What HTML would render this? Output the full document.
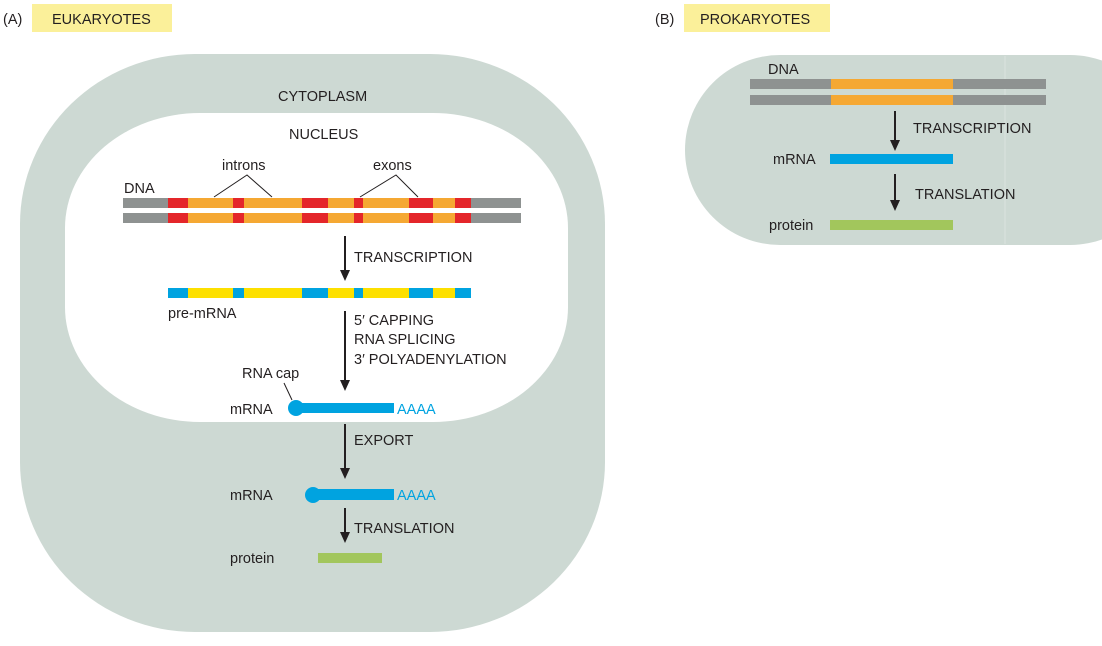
<!DOCTYPE html>
<html><head><meta charset="utf-8"><style>
html,body{margin:0;padding:0;background:#fff;}
svg text{font-family:"Liberation Sans",sans-serif;font-size:14.5px;fill:#231f20;}
</style></head><body>
<svg width="1102" height="641" viewBox="0 0 1102 641" xmlns="http://www.w3.org/2000/svg">
<!-- labels -->
<text x="3" y="24">(A)</text>
<rect x="32" y="4" width="140" height="28" fill="#fbf09a"/>
<text x="52" y="24">EUKARYOTES</text>
<text x="655" y="24">(B)</text>
<rect x="684" y="4" width="146" height="28" fill="#fbf09a"/>
<text x="700" y="24">PROKARYOTES</text>
<!-- cells -->
<rect x="20" y="54" width="585" height="578" rx="175" ry="170" fill="#cdd9d3"/>
<rect x="65" y="113" width="503" height="309" rx="135" ry="115" fill="#fff"/>
<rect x="685" y="55" width="480" height="190" rx="95" ry="95" fill="#cdd9d3"/>
<line x1="1005" y1="56" x2="1005" y2="244" stroke="#dbe3df" stroke-width="1"/>
<text x="278" y="101">CYTOPLASM</text>
<text x="289" y="139">NUCLEUS</text>
<text x="222" y="170">introns</text>
<text x="373" y="170">exons</text>
<text x="124" y="193">DNA</text>
<polyline points="214,197 247,175 272,197" fill="none" stroke="#231f20" stroke-width="1"/>
<polyline points="360,197 396,175 418,197" fill="none" stroke="#231f20" stroke-width="1"/>
<!-- DNA strands -->
<g id="s">
<rect x="123" y="198" width="398" height="10" fill="#8e9291"/>
<rect x="168" y="198" width="303" height="10" fill="#f5a833"/>
<rect x="168" y="198" width="20" height="10" fill="#e4262a"/>
<rect x="233" y="198" width="11" height="10" fill="#e4262a"/>
<rect x="302" y="198" width="26" height="10" fill="#e4262a"/>
<rect x="354" y="198" width="9" height="10" fill="#e4262a"/>
<rect x="409" y="198" width="24" height="10" fill="#e4262a"/>
<rect x="455" y="198" width="16" height="10" fill="#e4262a"/>
</g>
<use href="#s" y="15"/>
<!-- pre-mRNA -->
<rect x="168" y="288" width="303" height="10" fill="#fde000"/>
<rect x="168" y="288" width="20" height="10" fill="#00a3e0"/>
<rect x="233" y="288" width="11" height="10" fill="#00a3e0"/>
<rect x="302" y="288" width="26" height="10" fill="#00a3e0"/>
<rect x="354" y="288" width="9" height="10" fill="#00a3e0"/>
<rect x="409" y="288" width="24" height="10" fill="#00a3e0"/>
<rect x="455" y="288" width="16" height="10" fill="#00a3e0"/>
<text x="168" y="318">pre-mRNA</text>
<!-- arrows -->
<g stroke="#231f20" stroke-width="2">
<line x1="345" y1="236" x2="345" y2="272"/>
<line x1="345" y1="311" x2="345" y2="382"/>
<line x1="345" y1="424" x2="345" y2="470"/>
<line x1="345" y1="508" x2="345" y2="534"/>
<line x1="895" y1="111" x2="895" y2="142"/>
<line x1="895" y1="174" x2="895" y2="202"/>
</g>
<g fill="#231f20">
<polygon points="340,270 350,270 345,281"/>
<polygon points="340,380 350,380 345,391"/>
<polygon points="340,468 350,468 345,479"/>
<polygon points="340,532 350,532 345,543"/>
<polygon points="890,140 900,140 895,151"/>
<polygon points="890,200 900,200 895,211"/>
</g>
<text x="354" y="262">TRANSCRIPTION</text>
<text x="354" y="325">5′ CAPPING</text>
<text x="354" y="344">RNA SPLICING</text>
<text x="354" y="364">3′ POLYADENYLATION</text>
<text x="242" y="378">RNA cap</text>
<line x1="284" y1="383" x2="292" y2="400" stroke="#231f20" stroke-width="1"/>
<text x="230" y="414">mRNA</text>
<circle cx="296" cy="408" r="8" fill="#00a3e0"/>
<rect x="296" y="403" width="98" height="10" fill="#00a3e0"/>
<text x="397" y="414" style="fill:#00a3e0">AAAA</text>
<text x="354" y="445">EXPORT</text>
<text x="230" y="500">mRNA</text>
<circle cx="313" cy="495" r="8" fill="#00a3e0"/>
<rect x="313" y="489" width="81" height="11" fill="#00a3e0"/>
<text x="397" y="500" style="fill:#00a3e0">AAAA</text>
<text x="354" y="533">TRANSLATION</text>
<text x="230" y="563">protein</text>
<rect x="318" y="553" width="64" height="10" fill="#a2c65c"/>
<!-- prokaryote -->
<text x="768" y="74">DNA</text>
<rect x="750" y="79" width="296" height="10" fill="#8e9291"/>
<rect x="831" y="79" width="122" height="10" fill="#f5a833"/>
<rect x="750" y="95" width="296" height="10" fill="#8e9291"/>
<rect x="831" y="95" width="122" height="10" fill="#f5a833"/>
<text x="913" y="133">TRANSCRIPTION</text>
<text x="773" y="164">mRNA</text>
<rect x="830" y="154" width="123" height="10" fill="#00a3e0"/>
<text x="915" y="199">TRANSLATION</text>
<text x="769" y="230">protein</text>
<rect x="830" y="220" width="123" height="10" fill="#a2c65c"/>
</svg>
</body></html>
